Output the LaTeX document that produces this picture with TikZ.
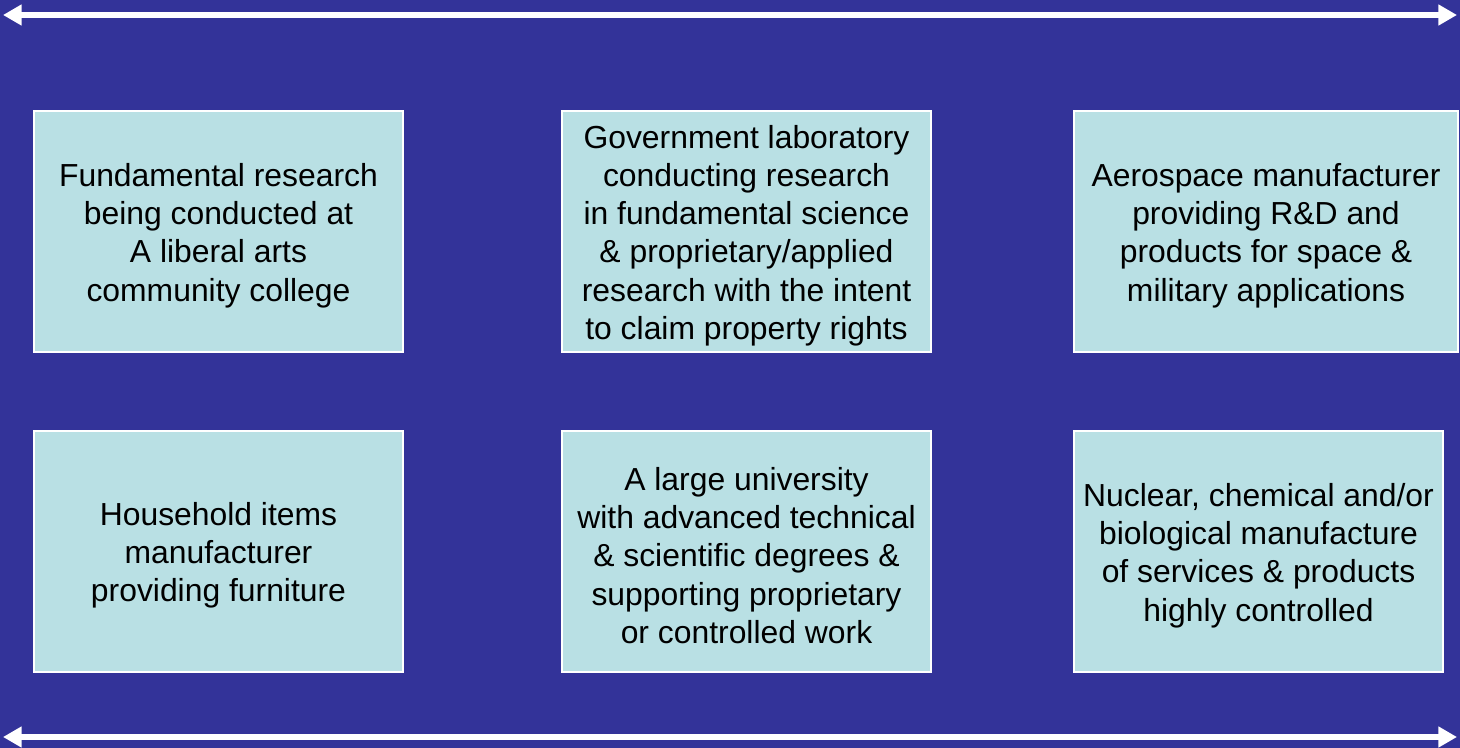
\documentclass[tikz,border=0pt]{standalone}
\usepackage{fontspec}
\setmainfont{Liberation Sans}
\usetikzlibrary{arrows.meta}
\definecolor{bgblue}{HTML}{333399}
\definecolor{boxfill}{HTML}{B9E0E4}
\tikzset{
  infobox/.style={draw=white, line width=0.9pt, fill=boxfill,
    inner sep=0pt, minimum height=180.75pt},
  boxtext/.style={text=black, align=center, inner sep=0pt,
    font=\fontsize{23.9}{28.65}\selectfont},
  spanarrow/.style={draw=white, line width=4pt,
    {Triangle[length=14pt,width=15pt]}-{Triangle[length=14pt,width=15pt]}}
}
\begin{document}
\begin{tikzpicture}[x=0.75pt,y=-0.75pt]
\fill[bgblue] (0,0) rectangle (1460,748);
\useasboundingbox (0,0) rectangle (1460,748);
\coordinate (tl) at (3,15);
\coordinate (tr) at (1457,15);
\coordinate (bl) at (3,737);
\coordinate (br) at (1457,737);
\draw[spanarrow] (tl) -- (tr);
\draw[spanarrow] (bl) -- (br);
\node[infobox, minimum width=276.75pt] (a1) at (218.5,231.5) {};
\node[infobox, minimum width=276.75pt] (a2) at (746.5,231.5) {};
\node[infobox, minimum width=288pt] (a3) at (1266,231.5) {};
\node[infobox, minimum width=276.75pt] (b1) at (218.5,551.5) {};
\node[infobox, minimum width=276.75pt] (b2) at (746.5,551.5) {};
\node[infobox, minimum width=276.75pt] (b3) at (1258.5,551.5) {};
\node[boxtext] (ta1) at ([yshift=-3pt]a1.center)
  {Fundamental research\\being conducted at\\A liberal arts\\community college};
\node[boxtext] (ta2) at ([yshift=-3pt]a2.center)
  {Government laboratory\\conducting research\\in fundamental science\\\& proprietary/applied\\research with the intent\\to claim property rights};
\node[boxtext] (ta3) at ([yshift=-3pt]a3.center)
  {Aerospace manufacturer\\providing R\&D and\\products for space \&\\military applications};
\node[boxtext] (tb1) at ([yshift=-3pt]b1.center)
  {Household items\\manufacturer\\providing furniture};
\node[boxtext] (tb2) at ([yshift=-3pt]b2.center)
  {A large university\\with advanced technical\\\& scientific degrees \&\\supporting proprietary\\or controlled work};
\node[boxtext] (tb3) at ([yshift=-3pt]b3.center)
  {Nuclear, chemical and/or\\biological manufacture\\of services \& products\\highly controlled};
\end{tikzpicture}
\end{document}
